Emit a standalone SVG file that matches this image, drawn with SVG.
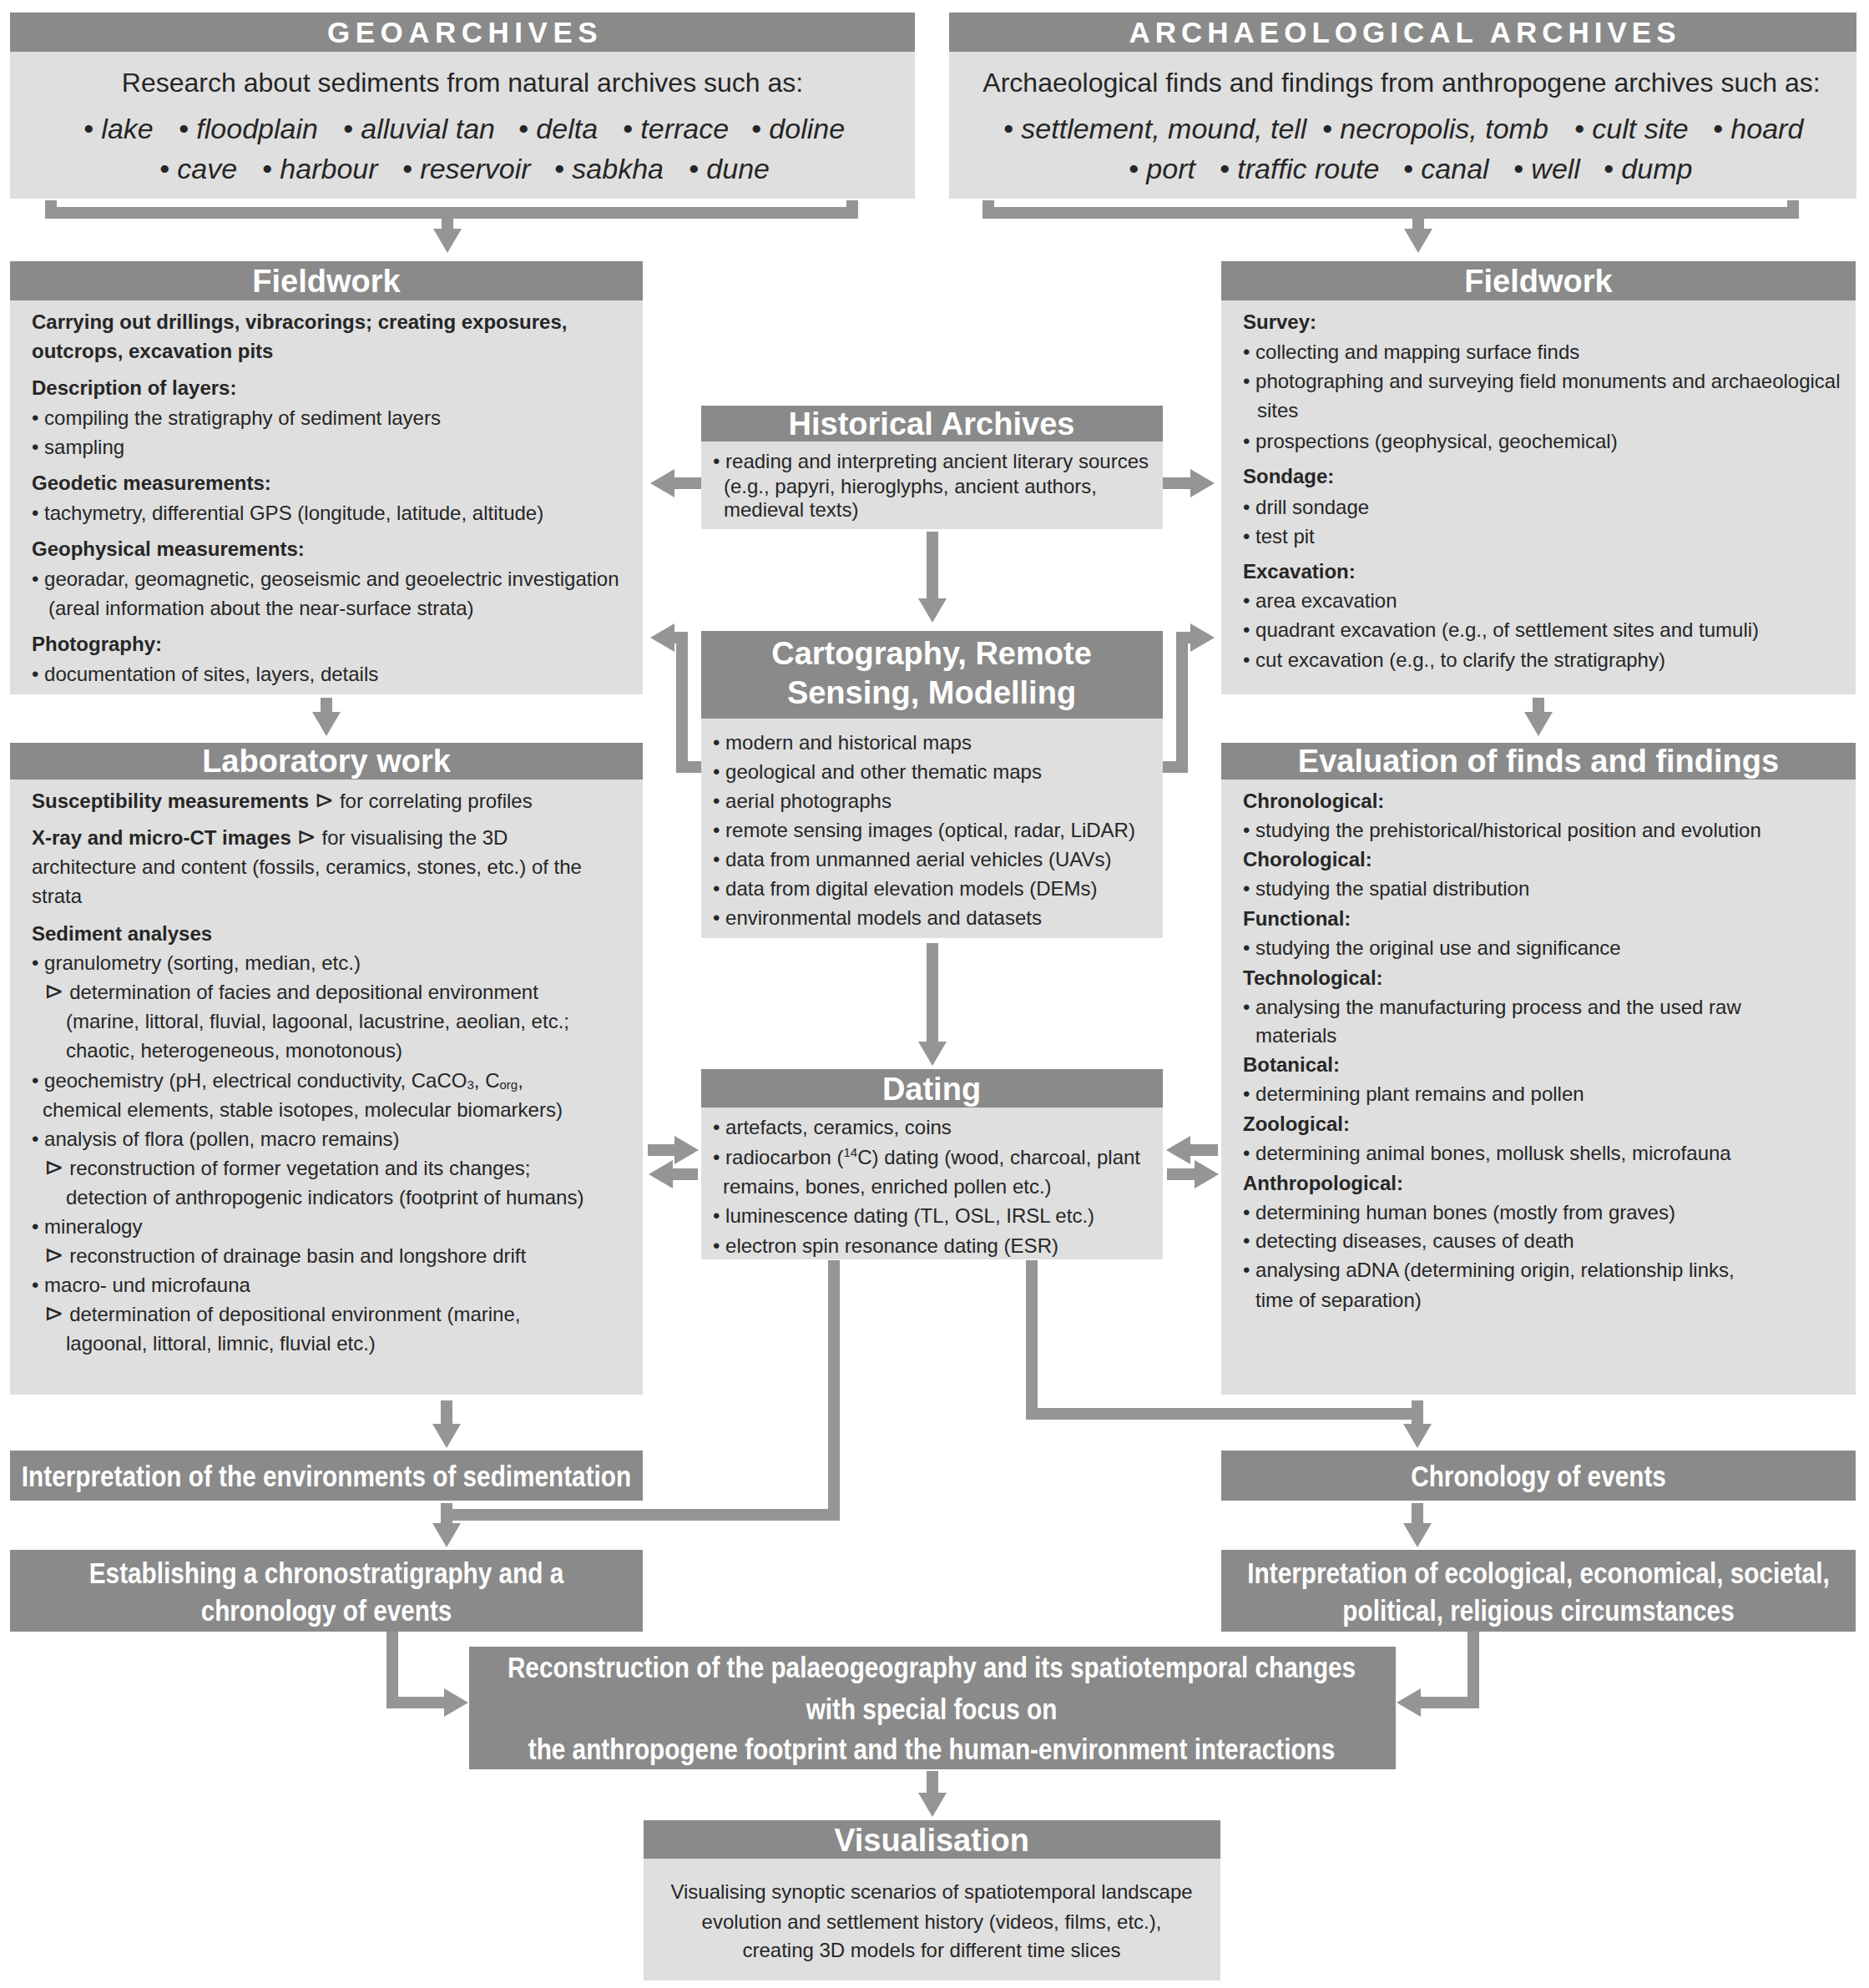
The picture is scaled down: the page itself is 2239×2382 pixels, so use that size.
<svg xmlns="http://www.w3.org/2000/svg" width="2239" height="2382" viewBox="0 0 2239 2382">
<defs>
<style>
.hd{fill:#8a8a8a}
.bd{fill:#dfdfdf}
.t{font-family:"Liberation Sans",Arial,sans-serif;font-size:24px;fill:#262626}
.b{font-weight:bold}
.c{text-anchor:middle}
.ttl{font-family:"Liberation Sans",Arial,sans-serif;font-size:38px;font-weight:bold;fill:#ffffff;text-anchor:middle}
.arc{font-family:"Liberation Sans",Arial,sans-serif;font-size:35px;font-weight:bold;fill:#ffffff;text-anchor:middle}
.nb{font-family:"Liberation Sans",Arial,sans-serif;font-size:35px;font-weight:bold;fill:#ffffff;text-anchor:middle}
.lg{font-family:"Liberation Sans",Arial,sans-serif;font-size:32px;fill:#262626}
.it{font-family:"Liberation Sans",Arial,sans-serif;font-size:34px;font-style:italic;fill:#262626}
.sym{font-family:"DejaVu Sans",sans-serif;font-size:28px}
.cn{fill:none;stroke:#959595;stroke-width:14;stroke-linejoin:miter;stroke-linecap:butt}
</style>
<marker id="ah" markerUnits="userSpaceOnUse" viewBox="0 0 30 34" markerWidth="30" markerHeight="34" refX="1" refY="17" orient="auto">
<path d="M0,0 L29,17 L0,34 z" fill="#959595"/>
</marker>
</defs>
<rect x="0" y="0" width="2239" height="2382" fill="#ffffff"/>

<g id="connectors">
<path class="cn" d="M61,240 V255 H1021 V240"/>
<path class="cn" d="M536,255 V275" marker-end="url(#ah)"/>
<path class="cn" d="M1184,240 V255 H2148 V240"/>
<path class="cn" d="M1699,255 V275" marker-end="url(#ah)"/>
<path class="cn" d="M840,579 H807" marker-end="url(#ah)"/>
<path class="cn" d="M1393,579 H1427" marker-end="url(#ah)"/>
<path class="cn" d="M1117,637 V718" marker-end="url(#ah)"/>
<path class="cn" d="M840,919 H817 V764 H807" marker-end="url(#ah)"/>
<path class="cn" d="M1393,919 H1416 V764 H1427" marker-end="url(#ah)"/>
<path class="cn" d="M391,836 V854" marker-end="url(#ah)"/>
<path class="cn" d="M1843,836 V854" marker-end="url(#ah)"/>
<path class="cn" d="M1117,1130 V1249" marker-end="url(#ah)"/>
<path class="cn" d="M776,1378 H809" marker-end="url(#ah)"/>
<path class="cn" d="M836,1407 H805" marker-end="url(#ah)"/>
<path class="cn" d="M1459,1378 H1425" marker-end="url(#ah)"/>
<path class="cn" d="M1398,1407 H1432" marker-end="url(#ah)"/>
<path class="cn" d="M535,1678 V1707" marker-end="url(#ah)"/>
<path class="cn" d="M535,1801 V1826" marker-end="url(#ah)"/>
<path class="cn" d="M999,1510 V1815 H542"/>
<path class="cn" d="M1698,1678 V1707" marker-end="url(#ah)"/>
<path class="cn" d="M1236,1510 V1694 H1691"/>
<path class="cn" d="M1698,1801 V1826" marker-end="url(#ah)"/>
<path class="cn" d="M470,1955 V2040 H533" marker-end="url(#ah)"/>
<path class="cn" d="M1765,1955 V2040 H1701" marker-end="url(#ah)"/>
<path class="cn" d="M1117,2122 V2149" marker-end="url(#ah)"/>
</g>

<g id="geoarchives">
<rect class="bd" x="12" y="15" width="1084" height="223"/>
<rect class="hd" x="12" y="15" width="1084" height="47"/>
<text class="arc" x="557" y="51" letter-spacing="6.5">GEOARCHIVES</text>
<text class="lg c" x="554" y="110">Research about sediments from natural archives such as:</text>
<text class="it" y="166"><tspan x="100">• lake</tspan><tspan x="214">• floodplain</tspan><tspan x="411">• alluvial tan</tspan><tspan x="621">• delta</tspan><tspan x="746">• terrace</tspan><tspan x="900">• doline</tspan></text>
<text class="it" y="214"><tspan x="191">• cave</tspan><tspan x="314">• harbour</tspan><tspan x="482">• reservoir</tspan><tspan x="664">• sabkha</tspan><tspan x="825">• dune</tspan></text>
</g>

<g id="archaeological-archives">
<rect class="bd" x="1137" y="15" width="1087" height="223"/>
<rect class="hd" x="1137" y="15" width="1087" height="47"/>
<text class="arc" x="1683" y="51" letter-spacing="6">ARCHAEOLOGICAL  ARCHIVES</text>
<text class="lg c" x="1679" y="110">Archaeological finds and findings from anthropogene archives such as:</text>
<text class="it" y="166"><tspan x="1202">• settlement, mound, tell</tspan><tspan x="1584">• necropolis, tomb</tspan><tspan x="1886">• cult site</tspan><tspan x="2052">• hoard</tspan></text>
<text class="it" y="214"><tspan x="1352">• port</tspan><tspan x="1461">• traffic route</tspan><tspan x="1681">• canal</tspan><tspan x="1813">• well</tspan><tspan x="1921">• dump</tspan></text>
</g>

<g id="fieldwork-geo">
<rect class="bd" x="12" y="313" width="758" height="519"/>
<rect class="hd" x="12" y="313" width="758" height="47"/>
<text class="ttl" x="391" y="350">Fieldwork</text>
<text class="t b" x="38" y="394">Carrying out drillings, vibracorings; creating exposures,</text>
<text class="t b" x="38" y="429">outcrops, excavation pits</text>
<text class="t b" x="38" y="473">Description of layers:</text>
<text class="t" x="38" y="509">• compiling the stratigraphy of sediment layers</text>
<text class="t" x="38" y="544">• sampling</text>
<text class="t b" x="38" y="587">Geodetic measurements:</text>
<text class="t" x="38" y="623">• tachymetry, differential GPS (longitude, latitude, altitude)</text>
<text class="t b" x="38" y="666">Geophysical measurements:</text>
<text class="t" x="38" y="702">• georadar, geomagnetic, geoseismic and geoelectric investigation</text>
<text class="t" x="58" y="737">(areal information about the near-surface strata)</text>
<text class="t b" x="38" y="780">Photography:</text>
<text class="t" x="38" y="816">• documentation of sites, layers, details</text>
</g>

<g id="fieldwork-arch">
<rect class="bd" x="1463" y="313" width="760" height="519"/>
<rect class="hd" x="1463" y="313" width="760" height="47"/>
<text class="ttl" x="1843" y="350">Fieldwork</text>
<text class="t b" x="1489" y="394">Survey:</text>
<text class="t" x="1489" y="430">• collecting and mapping surface finds</text>
<text class="t" x="1489" y="465">• photographing and surveying field monuments and archaeological</text>
<text class="t" x="1506" y="500">sites</text>
<text class="t" x="1489" y="537">• prospections (geophysical, geochemical)</text>
<text class="t b" x="1489" y="579">Sondage:</text>
<text class="t" x="1489" y="616">• drill sondage</text>
<text class="t" x="1489" y="651">• test pit</text>
<text class="t b" x="1489" y="693">Excavation:</text>
<text class="t" x="1489" y="728">• area excavation</text>
<text class="t" x="1489" y="763">• quadrant excavation (e.g., of settlement sites and tumuli)</text>
<text class="t" x="1489" y="799">• cut excavation (e.g., to clarify the stratigraphy)</text>
</g>

<g id="historical-archives">
<rect class="bd" x="840" y="486" width="553" height="148"/>
<rect class="hd" x="840" y="486" width="553" height="43"/>
<text class="ttl" x="1116" y="521">Historical Archives</text>
<text class="t" x="854" y="561">• reading and interpreting ancient literary sources</text>
<text class="t" x="867" y="591">(e.g., papyri, hieroglyphs, ancient authors,</text>
<text class="t" x="867" y="619">medieval texts)</text>
</g>

<g id="cartography">
<rect class="bd" x="840" y="756" width="553" height="368"/>
<rect class="hd" x="840" y="756" width="553" height="105"/>
<text class="ttl" x="1116" y="796">Cartography, Remote</text>
<text class="ttl" x="1116" y="843">Sensing, Modelling</text>
<text class="t" x="854" y="898">• modern and historical maps</text>
<text class="t" x="854" y="933">• geological and other thematic maps</text>
<text class="t" x="854" y="968">• aerial photographs</text>
<text class="t" x="854" y="1003">• remote sensing images (optical, radar, LiDAR)</text>
<text class="t" x="854" y="1038">• data from unmanned aerial vehicles (UAVs)</text>
<text class="t" x="854" y="1073">• data from digital elevation models (DEMs)</text>
<text class="t" x="854" y="1108">• environmental models and datasets</text>
</g>

<g id="laboratory-work">
<rect class="bd" x="12" y="890" width="758" height="781"/>
<rect class="hd" x="12" y="890" width="758" height="44"/>
<text class="ttl" x="391" y="925">Laboratory work</text>
<text class="t" x="38" y="968"><tspan class="b">Susceptibility measurements</tspan> <tspan class="sym">⊳</tspan> for correlating profiles</text>
<text class="t" x="38" y="1012"><tspan class="b">X-ray and micro-CT images</tspan> <tspan class="sym">⊳</tspan> for visualising the 3D</text>
<text class="t" x="38" y="1047">architecture and content (fossils, ceramics, stones, etc.) of the</text>
<text class="t" x="38" y="1082">strata</text>
<text class="t b" x="38" y="1127">Sediment analyses</text>
<text class="t" x="38" y="1162">• granulometry (sorting, median, etc.)</text>
<text class="t" x="53" y="1197"><tspan class="sym">⊳</tspan> determination of facies and depositional environment</text>
<text class="t" x="79" y="1232">(marine, littoral, fluvial, lagoonal, lacustrine, aeolian, etc.;</text>
<text class="t" x="79" y="1267">chaotic, heterogeneous, monotonous)</text>
<text class="t" x="38" y="1303">• geochemistry (pH, electrical conductivity, CaCO<tspan font-size="15" dy="2">3</tspan><tspan dy="-2">, C</tspan><tspan font-size="15" dy="2">org</tspan><tspan dy="-2">,</tspan></text>
<text class="t" x="51" y="1338">chemical elements, stable isotopes, molecular biomarkers)</text>
<text class="t" x="38" y="1373">• analysis of flora (pollen, macro remains)</text>
<text class="t" x="53" y="1408"><tspan class="sym">⊳</tspan> reconstruction of former vegetation and its changes;</text>
<text class="t" x="79" y="1443">detection of anthropogenic indicators (footprint of humans)</text>
<text class="t" x="38" y="1478">• mineralogy</text>
<text class="t" x="53" y="1513"><tspan class="sym">⊳</tspan> reconstruction of drainage basin and longshore drift</text>
<text class="t" x="38" y="1548">• macro- und microfauna</text>
<text class="t" x="53" y="1583"><tspan class="sym">⊳</tspan> determination of depositional environment (marine,</text>
<text class="t" x="79" y="1618">lagoonal, littoral, limnic, fluvial etc.)</text>
</g>

<g id="evaluation">
<rect class="bd" x="1463" y="890" width="760" height="781"/>
<rect class="hd" x="1463" y="890" width="760" height="44"/>
<text class="ttl" x="1843" y="925">Evaluation of finds and findings</text>
<text class="t b" x="1489" y="968">Chronological:</text>
<text class="t" x="1489" y="1003">• studying the prehistorical/historical position and evolution</text>
<text class="t b" x="1489" y="1038">Chorological:</text>
<text class="t" x="1489" y="1073">• studying the spatial distribution</text>
<text class="t b" x="1489" y="1109">Functional:</text>
<text class="t" x="1489" y="1144">• studying the original use and significance</text>
<text class="t b" x="1489" y="1180">Technological:</text>
<text class="t" x="1489" y="1215">• analysing the manufacturing process and the used raw</text>
<text class="t" x="1504" y="1249">materials</text>
<text class="t b" x="1489" y="1284">Botanical:</text>
<text class="t" x="1489" y="1319">• determining plant remains and pollen</text>
<text class="t b" x="1489" y="1355">Zoological:</text>
<text class="t" x="1489" y="1390">• determining animal bones, mollusk shells, microfauna</text>
<text class="t b" x="1489" y="1426">Anthropological:</text>
<text class="t" x="1489" y="1461">• determining human bones (mostly from graves)</text>
<text class="t" x="1489" y="1495">• detecting diseases, causes of death</text>
<text class="t" x="1489" y="1530">• analysing aDNA (determining origin, relationship links,</text>
<text class="t" x="1504" y="1566">time of separation)</text>
</g>

<g id="dating">
<rect class="bd" x="840" y="1281" width="553" height="228"/>
<rect class="hd" x="840" y="1281" width="553" height="46"/>
<text class="ttl" x="1116" y="1318">Dating</text>
<text class="t" x="854" y="1359">• artefacts, ceramics, coins</text>
<text class="t" x="854" y="1395">• radiocarbon (<tspan font-size="15" dy="-9">14</tspan><tspan dy="9">C) dating (wood, charcoal, plant</tspan></text>
<text class="t" x="866" y="1430">remains, bones, enriched pollen etc.)</text>
<text class="t" x="854" y="1465">• luminescence dating (TL, OSL, IRSL etc.)</text>
<text class="t" x="854" y="1501">• electron spin resonance dating (ESR)</text>
</g>

<g id="interpretation-sedimentation">
<rect class="hd" x="12" y="1738" width="758" height="60"/>
<text class="nb" transform="translate(391,1781) scale(0.85,1)">Interpretation of the environments of sedimentation</text>
</g>

<g id="chronostratigraphy">
<rect class="hd" x="12" y="1857" width="758" height="98"/>
<text class="nb" transform="translate(391,1897) scale(0.85,1)">Establishing a chronostratigraphy and a</text>
<text class="nb" transform="translate(391,1942) scale(0.85,1)">chronology of events</text>
</g>

<g id="chronology-events">
<rect class="hd" x="1463" y="1738" width="760" height="60"/>
<text class="nb" transform="translate(1843,1781) scale(0.85,1)">Chronology of events</text>
</g>

<g id="interpretation-circumstances">
<rect class="hd" x="1463" y="1857" width="760" height="98"/>
<text class="nb" transform="translate(1843,1897) scale(0.85,1)">Interpretation of ecological, economical, societal,</text>
<text class="nb" transform="translate(1843,1942) scale(0.85,1)">political, religious circumstances</text>
</g>

<g id="reconstruction">
<rect class="hd" x="562" y="1973" width="1110" height="147"/>
<text class="nb" transform="translate(1116,2010) scale(0.85,1)">Reconstruction of the palaeogeography and its spatiotemporal changes</text>
<text class="nb" transform="translate(1116,2060) scale(0.85,1)">with special focus on</text>
<text class="nb" transform="translate(1116,2108) scale(0.85,1)">the anthropogene footprint and the human-environment interactions</text>
</g>

<g id="visualisation">
<rect class="bd" x="771" y="2181" width="691" height="192"/>
<rect class="hd" x="771" y="2181" width="691" height="46"/>
<text class="ttl" x="1116" y="2218">Visualisation</text>
<text class="t c" x="1116" y="2275">Visualising synoptic scenarios of spatiotemporal landscape</text>
<text class="t c" x="1116" y="2311">evolution and settlement history (videos, films, etc.),</text>
<text class="t c" x="1116" y="2345">creating 3D models for different time slices</text>
</g>
</svg>
